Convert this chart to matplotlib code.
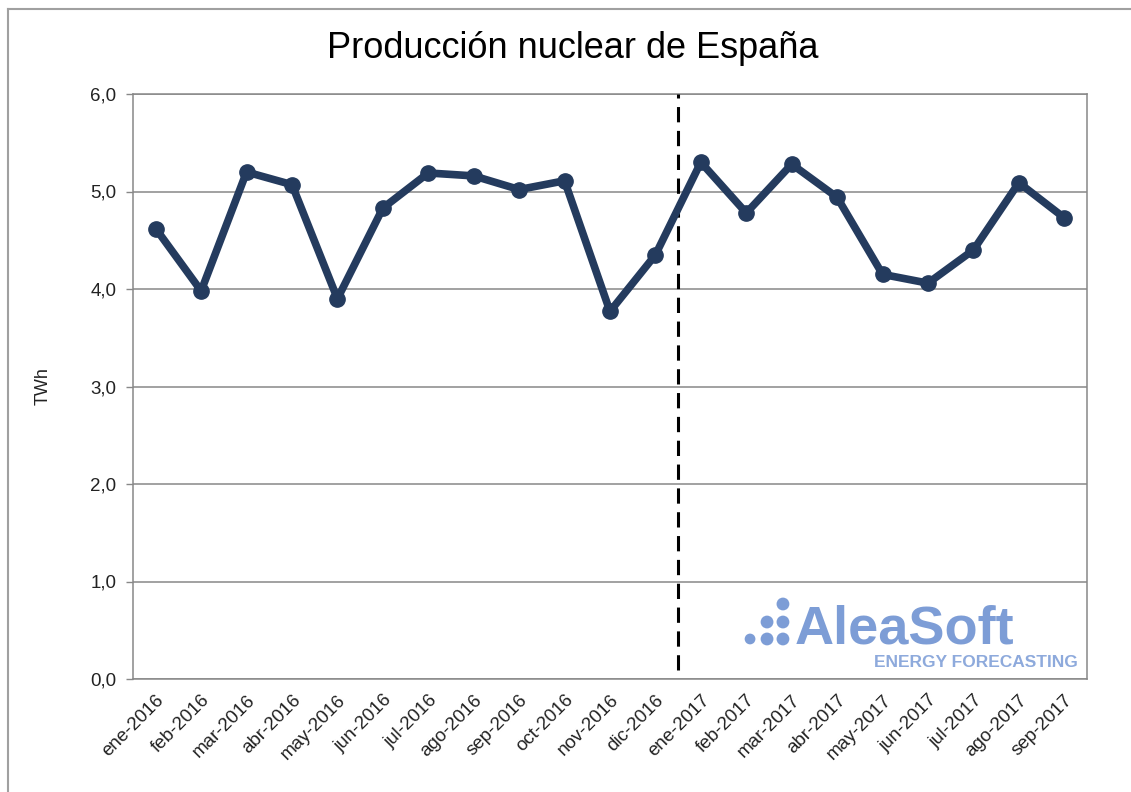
import matplotlib
matplotlib.use('Agg')
import matplotlib.pyplot as plt
from matplotlib.lines import Line2D
import numpy as np

plt.rcParams['font.family'] = ['Liberation Sans', 'DejaVu Sans']

meses = ['ene-2016', 'feb-2016', 'mar-2016', 'abr-2016', 'may-2016', 'jun-2016',
         'jul-2016', 'ago-2016', 'sep-2016', 'oct-2016', 'nov-2016', 'dic-2016',
         'ene-2017', 'feb-2017', 'mar-2017', 'abr-2017', 'may-2017', 'jun-2017',
         'jul-2017', 'ago-2017', 'sep-2017']
produccion = [4.62, 3.98, 5.20, 5.07, 3.90, 4.83, 5.19, 5.16, 5.02, 5.11, 3.77, 4.35,
              5.30, 4.78, 5.28, 4.94, 4.15, 4.06, 4.40, 5.09, 4.73]
yticks = [0, 1, 2, 3, 4, 5, 6]
ytick_labels = ['0,0', '1,0', '2,0', '3,0', '4,0', '5,0', '6,0']
corte = 'ene-2017'

fig = plt.figure(figsize=(11.31, 7.92), dpi=100)
ax = fig.add_axes([133/1131, 1-679/792, 954/1131, 585/792])

x = np.arange(len(meses))
ax.plot(x, produccion, color='#243b5e', lw=5.5, marker='o', ms=11,
        solid_joinstyle='round', zorder=4)

# separador entre años
xc = meses.index(corte) - 0.5
ax.axvline(xc, ymin=0.015, ymax=1, color='black', lw=2.2, ls=(0, (5, 2.8)), zorder=3)

ax.set_xlim(-0.5, len(meses) - 0.5)
ax.set_ylim(0, 6)
ax.set_yticks(yticks)
ax.set_yticklabels(ytick_labels, fontsize=13.5, color='#222222')
ax.set_xticks(x)
ax.set_xticklabels(meses, fontsize=13.5, rotation=45, ha='right', va='top',
                   rotation_mode='anchor', color='#222222')
for lab in ax.get_xticklabels():
    lab.set_x(lab.get_position()[0])
ax.tick_params(axis='x', length=0, pad=9)
ax.tick_params(axis='y', length=5, width=1, color='#888888', pad=7)
ax.grid(axis='y', color='#888888', lw=1.1)
ax.set_axisbelow(True)
for s in ax.spines.values():
    s.set_color('#888888')
    s.set_linewidth(1.1)

ax.set_ylabel('TWh', fontsize=13, color='#222222', labelpad=28)
fig.text(573/1131, 1-48/792, 'Producción nuclear de España', fontsize=26,
         ha='center', va='center', color='black')

# logo
ax.text(0.694, 0.0615, 'AleaSoft', transform=ax.transAxes, fontsize=39,
        fontweight='bold', color='#7d9dd6', ha='left', va='baseline', zorder=2)
ax.text(0.9906, 0.0205, 'ENERGY FORECASTING', transform=ax.transAxes, fontsize=12.5,
        fontweight='bold', color='#8eaadc', ha='right', va='baseline', zorder=2)
dx = [0.6468, 0.6646, 0.6813, 0.6646, 0.6813, 0.6813]
dy = [0.0684, 0.0684, 0.0684, 0.0974, 0.0974, 0.1282]
ax.scatter(dx, dy, s=[60, 85, 85, 85, 85, 85], color='#7d9dd6', transform=ax.transAxes,
           zorder=2, linewidths=0)

# marco exterior
fig.add_artist(Line2D([8/1131, 1.0], [1-9/792, 1-9/792], color='#a0a0a0', lw=1.5,
                      transform=fig.transFigure))
fig.add_artist(Line2D([8/1131, 8/1131], [0, 1-9/792], color='#a0a0a0', lw=1.5,
                      transform=fig.transFigure))

fig.savefig('out.png', dpi=100)
